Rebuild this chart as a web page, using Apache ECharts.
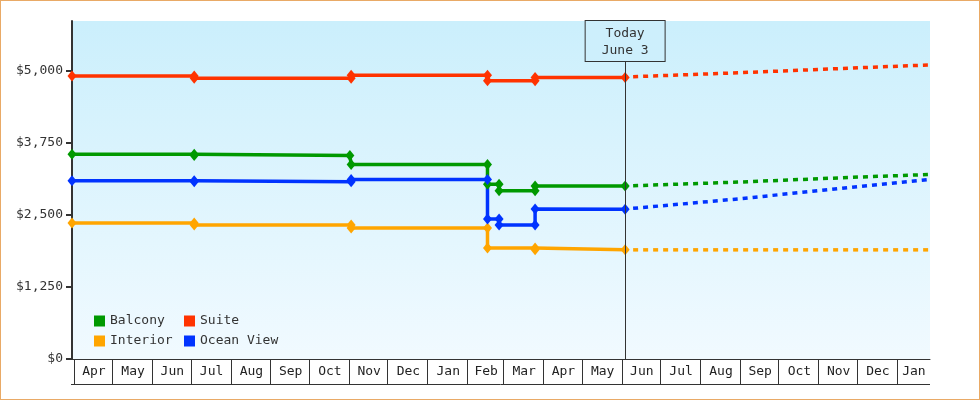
<!DOCTYPE html>
<html>
<head>
<meta charset="utf-8">
<script src="https://cdn.jsdelivr.net/npm/echarts@6/dist/echarts.min.js"></script>
<style>
  html, body { margin: 0; padding: 0; background: #fff; }
  #chart { width: 980px; height: 400px; box-sizing: border-box; border: 1px solid #e9aa66; }
</style>
</head>
<body>
<div id="chart"></div>
<script>
// price history: [date, price] -- a change on one day gives two points (old, new)
var balcony = [['2018-03-30', 3551], ['2018-07-03', 3551], ['2018-07-03', 3528], ['2018-11-01', 3528], ['2018-11-02', 3374],
  ['2019-02-16', 3374], ['2019-02-16', 3029], ['2019-02-25', 3029], ['2019-02-25', 2919], ['2019-03-25', 2919],
  ['2019-03-25', 3000], ['2019-06-03', 3000]];
var suite = [['2018-03-30', 4908], ['2018-07-03', 4908], ['2018-07-03', 4867], ['2018-11-02', 4867], ['2018-11-02', 4920],
  ['2019-02-16', 4920], ['2019-02-16', 4827], ['2019-03-25', 4827], ['2019-03-25', 4882], ['2019-06-03', 4884]];
var interior = [['2018-03-30', 2357], ['2018-07-03', 2357], ['2018-07-03', 2322], ['2018-11-02', 2322], ['2018-11-02', 2270],
  ['2019-02-16', 2270], ['2019-02-16', 1925], ['2019-03-25', 1925], ['2019-03-25', 1895], ['2019-06-03', 1893]];
var oceanView = [['2018-03-30', 3091], ['2018-07-03', 3091], ['2018-07-03', 3074], ['2018-11-02', 3074], ['2018-11-02', 3115],
  ['2019-02-16', 3115], ['2019-02-16', 2426], ['2019-02-25', 2426], ['2019-02-25', 2322], ['2019-03-25', 2322],
  ['2019-03-25', 2603], ['2019-06-03', 2598]];

// forecast after today (dotted)
var balconyForecast = [['2019-06-03', 3000], ['2019-09-01', 3070], ['2019-12-01', 3155], ['2020-01-26', 3200]];
var suiteForecast = [['2019-06-03', 4890], ['2019-09-01', 4966], ['2019-12-01', 5050], ['2020-01-26', 5100]];
var interiorForecast = [['2019-06-03', 1893], ['2020-01-26', 1893]];
var oceanForecast = [['2019-06-03', 2600], ['2019-09-01', 2781], ['2019-12-01', 2991], ['2020-01-26', 3115]];

var today = '2019-06-03';
var todayLabel = 'Today\nJune 3';

var monthLabels = ['Apr', 'May', 'Jun', 'Jul', 'Aug', 'Sep', 'Oct', 'Nov', 'Dec', 'Jan', 'Feb', 'Mar',
  'Apr', 'May', 'Jun', 'Jul', 'Aug', 'Sep', 'Oct', 'Nov', 'Dec', 'Jan'];
var monthStarts = ['2018-04-01', '2018-05-01', '2018-06-01', '2018-07-01', '2018-08-01', '2018-09-01', '2018-10-01',
  '2018-11-01', '2018-12-01', '2019-01-01', '2019-02-01', '2019-03-01', '2019-04-01', '2019-05-01', '2019-06-01',
  '2019-07-01', '2019-08-01', '2019-09-01', '2019-10-01', '2019-11-01', '2019-12-01', '2020-01-01', '2020-02-01'];

var yTicks = [0, 1250, 2500, 3750, 5000];

var FONT = '"DejaVu Sans Mono", monospace';
var colors = { balcony: '#009900', suite: '#ff3300', interior: '#ffa500', ocean: '#0033ff' };

var chart = echarts.init(document.getElementById('chart'));

// month cells under the x axis
var monthCells = monthLabels.map(function (m, i) {
  return [Date.parse(monthStarts[i]), Date.parse(monthStarts[i + 1])];
});

function renderMonth(params, api) {
  var cs = params.coordSys;
  var yb = cs.y + cs.height;
  var xs = api.coord([api.value(0), 0])[0];
  var xe = api.coord([api.value(1), 0])[0];
  var x0 = Math.max(xs, cs.x);
  var x1 = Math.min(xe, cs.x + cs.width);
  var children = [];
  if (xs >= cs.x) {
    children.push({ type: 'line', shape: { x1: Math.round(xs) - 0.5, y1: yb, x2: Math.round(xs) - 0.5, y2: yb + 25 },
      style: { stroke: '#333', lineWidth: 1 } });
  }
  if (params.dataIndex === 0) {
    children.push({ type: 'line', shape: { x1: cs.x - 1, y1: yb + 25.5, x2: cs.x + cs.width, y2: yb + 25.5 },
      style: { stroke: '#333', lineWidth: 1 } });
  }
  children.push({ type: 'text', style: { text: monthLabels[params.dataIndex], x: (x0 + x1) / 2, y: yb + 13,
    align: 'center', verticalAlign: 'middle', font: '13px ' + FONT, fill: '#222' } });
  return { type: 'group', children: children };
}

function mainSeries(name, data, color) {
  return {
    name: name, type: 'line', data: data, color: color,
    symbol: 'diamond', symbolSize: [9, 11], showAllSymbol: true,
    lineStyle: { width: 3.5 }, z: 3
  };
}
function forecastSeries(name, data, color) {
  return {
    name: name, type: 'line', data: data, color: color,
    symbol: 'none', showSymbol: false,
    lineStyle: { width: 3.5, type: [5, 5], dashOffset: -8 }, z: 2
  };
}

var legendText = { fontFamily: FONT, fontSize: 13, color: '#333', lineHeight: 14 };

var suiteMain = mainSeries('Suite', suite, colors.suite);
suiteMain.markLine = {
  silent: true,
  symbol: ['none', 'none'],
  animation: false,
  lineStyle: { color: '#333', width: 1, type: 'solid' },
  label: {
    show: true, position: 'end', distance: -40,
    formatter: todayLabel,
    fontFamily: FONT, fontSize: 13, color: '#333', lineHeight: 17,
    backgroundColor: '#cdeffc', borderColor: '#333', borderWidth: 1,
    padding: [4, 16, 2, 16]
  },
  data: [{ xAxis: today }]
};

var option = {
  animation: false,
  grid: {
    left: 71, right: 49, top: 20, bottom: 40,
    show: true, borderWidth: 0,
    backgroundColor: new echarts.graphic.LinearGradient(0, 0, 0, 1, [
      { offset: 0, color: '#cbeffc' },
      { offset: 1, color: '#f1faff' }
    ])
  },
  legend: [
    { data: ['Balcony', 'Interior'], orient: 'vertical', left: 93, top: 313, icon: 'rect', padding: 0,
      itemWidth: 11, itemHeight: 11, itemGap: 6, itemTextGap: 2, textStyle: legendText },
    { data: ['Suite', 'Ocean View'], orient: 'vertical', left: 183, top: 313, icon: 'rect', padding: 0,
      itemWidth: 11, itemHeight: 11, itemGap: 6, itemTextGap: 2, textStyle: legendText }
  ],
  xAxis: {
    type: 'time', min: '2018-03-30', max: '2020-01-26',
    axisLine: { show: true, lineStyle: { color: '#333', width: 1 } },
    axisTick: { show: false },
    axisLabel: { show: false },
    splitLine: { show: false }
  },
  yAxis: {
    type: 'value', min: 0, max: 5862,
    axisLine: { show: true, lineStyle: { color: '#333', width: 2 } },
    axisTick: { show: true, length: 6, customValues: yTicks, lineStyle: { color: '#333', width: 2 } },
    axisLabel: {
      customValues: yTicks, margin: 9, color: '#333', fontFamily: FONT, fontSize: 13,
      formatter: function (v) { return '$' + String(v).replace(/\B(?=(\d{3})+(?!\d))/g, ','); }
    },
    splitLine: { show: false }
  },
  series: [
    mainSeries('Balcony', balcony, colors.balcony),
    suiteMain,
    mainSeries('Interior', interior, colors.interior),
    mainSeries('Ocean View', oceanView, colors.ocean),
    forecastSeries('Balcony forecast', balconyForecast, colors.balcony),
    forecastSeries('Suite forecast', suiteForecast, colors.suite),
    forecastSeries('Interior forecast', interiorForecast, colors.interior),
    forecastSeries('Ocean View forecast', oceanForecast, colors.ocean),
    {
      name: 'months', type: 'custom', silent: true, clip: false,
      data: monthCells, encode: { x: [0, 1] },
      renderItem: renderMonth, z: 1
    }
  ]
};

chart.setOption(option);
</script>
</body>
</html>
